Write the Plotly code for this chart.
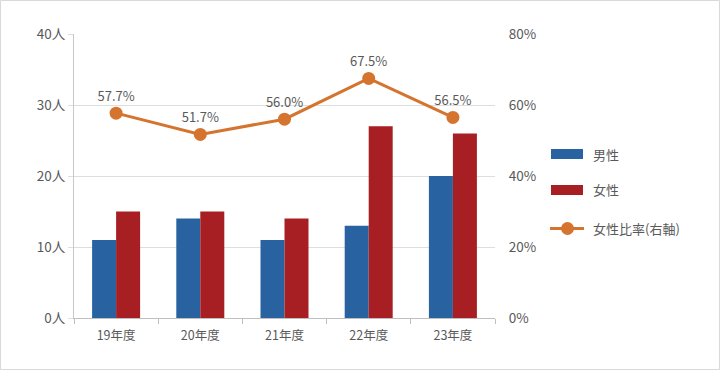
import plotly.graph_objects as go

categories = ["19年度", "20年度", "21年度", "22年度", "23年度"]
male = [11, 14, 11, 13, 20]
female = [15, 15, 14, 27, 26]
female_ratio = [57.7, 51.7, 56.0, 67.5, 56.5]
ratio_labels = ["57.7%", "51.7%", "56.0%", "67.5%", "56.5%"]

BLUE = "#2862a0"
RED = "#a81f23"
ORANGE = "#d4742f"
TXT = "#595959"
FONT = "Noto Sans CJK JP, Noto Sans, sans-serif"

W, H = 720, 370
L, R, T, B = 74, 495, 34, 318
PW, PH = R - L, B - T

def px(x):
    return (x - L) / PW

def py(y):
    return (B - y) / PH

fig = go.Figure()
fig.add_trace(go.Bar(x=categories, y=male, name="男性", marker=dict(color=BLUE, line=dict(width=0)), yaxis="y"))
fig.add_trace(go.Bar(x=categories, y=female, name="女性", marker=dict(color=RED, line=dict(width=0)), yaxis="y"))
fig.add_trace(go.Scatter(x=categories, y=female_ratio, name="女性比率(右軸)", yaxis="y2",
                         mode="lines+markers+text", text=ratio_labels, textposition="top center",
                         textfont=dict(size=13, color=TXT, family=FONT),
                         line=dict(color=ORANGE, width=3), marker=dict(color=ORANGE, size=13),
                         cliponaxis=False))

shapes = [
    dict(type="rect", xref="paper", yref="paper", x0=px(0.5), x1=px(719.5), y0=py(0.5), y1=py(369.5),
         line=dict(color="#d9d9d9", width=1), fillcolor="rgba(0,0,0,0)", layer="below"),
    # legend symbols
    dict(type="rect", xref="paper", yref="paper", x0=px(551), x1=px(583), y0=py(159), y1=py(149),
         fillcolor=BLUE, line=dict(width=0)),
    dict(type="rect", xref="paper", yref="paper", x0=px(551), x1=px(583), y0=py(195), y1=py(185),
         fillcolor=RED, line=dict(width=0)),
    dict(type="line", xref="paper", yref="paper", x0=px(550), x1=px(584), y0=py(228.5), y1=py(228.5),
         line=dict(color=ORANGE, width=3)),
    dict(type="circle", xref="paper", yref="paper", x0=px(561), x1=px(574), y0=py(235), y1=py(222),
         fillcolor=ORANGE, line=dict(width=0)),
]

annotations = []
for label, yc in [("男性", 154), ("女性", 190), ("女性比率(右軸)", 228)]:
    annotations.append(dict(text=label, xref="paper", yref="paper", x=px(591), y=py(yc),
                            xanchor="left", yanchor="middle", showarrow=False,
                            font=dict(size=13, color=TXT, family=FONT)))

fig.update_layout(
    width=W, height=H,
    margin=dict(l=L, r=W - R, t=T, b=H - B, pad=0),
    paper_bgcolor="white", plot_bgcolor="white",
    barmode="group", bargap=0.43, bargroupgap=0,
    showlegend=False,
    font=dict(family=FONT, size=13, color=TXT),
    xaxis=dict(showline=True, linecolor="#bfbfbf", linewidth=1, tickson="boundaries",
               ticks="outside", ticklen=5, tickcolor="#bfbfbf", showgrid=False,
               ticklabelstandoff=6,
               tickfont=dict(size=12.5, color=TXT), fixedrange=True),
    yaxis=dict(range=[0, 40], dtick=10, ticksuffix="人", showline=True, linecolor="#c8c8c8",
               showgrid=True, gridcolor="#dedede", gridwidth=1, ticks="outside", ticklen=5,
               tickcolor="#dedede", zeroline=False, tickfont=dict(size=13.5, color=TXT)),
    yaxis2=dict(range=[0, 80], dtick=20, ticksuffix="%", overlaying="y", side="right",
                showgrid=False, showline=False, zeroline=False, ticks="outside", ticklen=10,
                tickcolor="rgba(0,0,0,0)", tickfont=dict(size=13.5, color=TXT)),
    shapes=shapes,
    annotations=annotations,
)

fig.write_html("out.html", config={"displayModeBar": False},
               post_script="document.body.style.margin='0';document.body.style.padding='0';")
